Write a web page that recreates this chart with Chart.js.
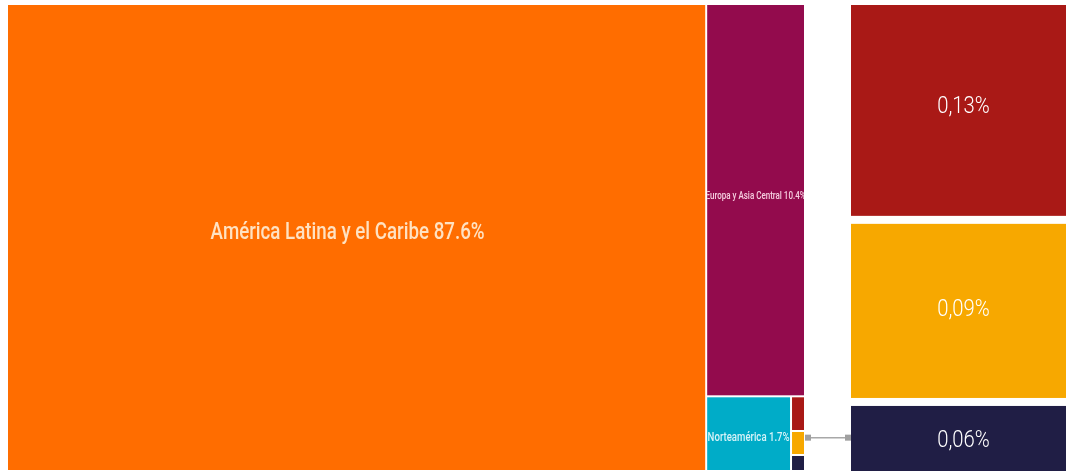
<!DOCTYPE html>
<html><head><meta charset="utf-8">
<script src="https://cdn.jsdelivr.net/npm/chart.js@4.4.1/dist/chart.umd.min.js"></script>
<style>
html,body{margin:0;padding:0;background:#fff;overflow:hidden;width:1067px;height:471px}
#wrapA{position:absolute;left:0;top:0;width:851px;height:471px}
#wrapB{position:absolute;left:851px;top:0;width:216px;height:471px}
</style></head><body>
<div id="wrapA"><canvas id="main"></canvas></div>
<div id="wrapB"><canvas id="zoom"></canvas></div>
<script>
// ---- data ----
const regions = ["América Latina y el Caribe", "Europa y Asia Central", "Norteamérica",
                 "Asia Oriental y el Pacífico", "Oriente Medio y Norte de África", "África Subsahariana"];
const shares = [87.6, 10.4, 1.7, 0.13, 0.09, 0.06];
const cellLabels = ["América Latina y el Caribe 87.6%", "Europa y Asia Central 10.4%", "Norteamérica 1.7%", "", "", ""];
const zoomLabels = ["0,13%", "0,09%", "0,06%"];
const zoomShares = [0.13, 0.09, 0.06];
const colors = ["#FF6D00", "#930B4D", "#00ACC8", "#A91916", "#F7A800", "#201E45"];
const labelColors = ["#FFE2C2", "#F6CFE0", "#D6F3F8", "#FFFFFF", "#FFFFFF", "#FFFFFF"];

const FONT = 'Roboto, "Noto Sans", sans-serif';

function worst(row, side) {
  const s = row.reduce((a, b) => a + b, 0);
  const mx = Math.max(...row), mn = Math.min(...row);
  return Math.max(side * side * mx / (s * s), (s * s) / (side * side * mn));
}
// squarified treemap; returns rects as fractions of the container
function squarify(vals, W, H) {
  const total = vals.reduce((a, b) => a + b, 0);
  const areas = vals.map(v => v * W * H / total);
  let x = 0, y = 0, w = W, h = H, i = 0;
  const out = [];
  while (i < areas.length) {
    const side = Math.min(w, h);
    const row = [areas[i]];
    let j = i + 1;
    while (j < areas.length && worst(row.concat([areas[j]]), side) <= worst(row, side)) { row.push(areas[j]); j++; }
    const s = row.reduce((a, b) => a + b, 0);
    if (w >= h) {
      const cw = s / h; let cy = y;
      row.forEach(a => { const ch = a / cw; out.push({x0: x / W, x1: (x + cw) / W, y0: cy / H, y1: (cy + ch) / H}); cy += ch; });
      x += cw; w -= cw;
    } else {
      const rh = s / w; let cx = x;
      row.forEach(a => { const rw = a / rh; out.push({x0: cx / W, x1: (cx + rw) / W, y0: y / H, y1: (y + rh) / H}); cx += rw; });
      y += rh; h -= rh;
    }
    i = j;
  }
  return out;
}

function drawText(ctx, text, cx, cy, size, weight, color, squeeze, clip) {
  ctx.save();
  if (clip) { ctx.beginPath(); ctx.rect(clip.l, clip.t, clip.r - clip.l, clip.b - clip.t); ctx.clip(); }
  ctx.font = weight + ' ' + size + 'px ' + FONT;
  ctx.fillStyle = color;
  ctx.textAlign = 'center';
  ctx.textBaseline = 'middle';
  ctx.translate(cx, cy);
  ctx.scale(squeeze, 1);
  ctx.fillText(text, 0, 0);
  ctx.restore();
}

const treemapPlugin = {
  id: 'treemap',
  afterDraw(chart) {
    const {ctx, chartArea: ca, scales: {x, y}} = chart;
    const rects = squarify(shares, ca.right - ca.left, ca.bottom - ca.top);
    const gap = 1;
    const px = [];
    rects.forEach((r, k) => {
      const l = x.getPixelForValue(r.x0) + gap, rr = x.getPixelForValue(r.x1) - gap;
      const t = y.getPixelForValue(r.y0) + gap, b = Math.min(y.getPixelForValue(r.y1) - gap, ca.bottom);
      px.push({l, r: rr, t, b});
      ctx.fillStyle = colors[k];
      ctx.fillRect(l, t, rr - l, b - t);
    });
    const sizes = [24, 10, 12];
    const weights = ['500', '500', '500'];
    const squeezes = [0.78, 0.8, 0.8];
    const dx = [-9, 0, 0], dy = [-5, -4, 4];
    rects.forEach((r, k) => {
      if (!cellLabels[k]) return;
      const p = px[k];
      drawText(ctx, cellLabels[k], (p.l + p.r) / 2 + dx[k], (p.t + p.b) / 2 + dy[k], sizes[k], weights[k], labelColors[k], squeezes[k], p);
    });
    // connector from small cluster to zoom panel
    const small = px.slice(3);
    const right = Math.max(...small.map(p => p.r));
    const top = Math.min(...small.map(p => p.t)), bot = Math.max(...small.map(p => p.b));
    const cy = (top + bot) / 2 + 4;
    ctx.strokeStyle = '#A8A8A8'; ctx.lineWidth = 1.5;
    ctx.beginPath(); ctx.moveTo(right + 1, cy); ctx.lineTo(ca.right + 42, cy); ctx.stroke();
    ctx.fillStyle = '#A0A0A0';
    ctx.fillRect(right + 1, cy - 3, 6, 6);
    ctx.fillRect(ca.right + 40, cy - 3, 6, 6);
  }
};

new Chart(document.getElementById('main'), {
  type: 'scatter',
  data: {datasets: [{data: []}]},
  options: {
    responsive: true, maintainAspectRatio: false, animation: false, events: [],
    layout: {padding: {left: 7, top: 4, right: 46, bottom: 0}},
    plugins: {legend: {display: false}, tooltip: {enabled: false}},
    scales: {
      x: {type: 'linear', min: 0, max: 1, display: false},
      y: {type: 'linear', min: 0, max: 1, reverse: true, display: false}
    }
  },
  plugins: [treemapPlugin]
});

// zoom panel: stacked boxes, height by sqrt of share
const zoomPlugin = {
  id: 'zoomPanel',
  afterDraw(chart) {
    const {ctx, chartArea: ca, scales: {x, y}} = chart;
    const offs = [-3, -0.5, 2.5];
    let acc = 0;
    zoomShares.forEach((v, k) => {
      const h = Math.sqrt(v);
      const t = y.getPixelForValue(acc) + 4;
      const full = y.getPixelForValue(acc + h) - 4;
      const b = Math.min(full, ca.bottom);
      acc += h;
      const l = x.getPixelForValue(0), r = x.getPixelForValue(1);
      ctx.fillStyle = colors[3 + k];
      ctx.fillRect(l, t, r - l, b - t);
      drawText(ctx, zoomLabels[k], (l + r) / 2 + 5, (t + b) / 2 + offs[k], 23, '300', '#FFFFFF', 0.88, null);
    });
  }
};

new Chart(document.getElementById('zoom'), {
  type: 'scatter',
  data: {datasets: [{data: []}]},
  options: {
    responsive: true, maintainAspectRatio: false, animation: false, events: [],
    layout: {padding: {left: 0, top: 1, right: 1, bottom: 0}},
    plugins: {legend: {display: false}, tooltip: {enabled: false}},
    scales: {
      x: {type: 'linear', min: 0, max: 1, display: false},
      y: {type: 'linear', min: 0, max: 0.7743, reverse: true, display: false}
    }
  },
  plugins: [zoomPlugin]
});
</script>
</body></html>
